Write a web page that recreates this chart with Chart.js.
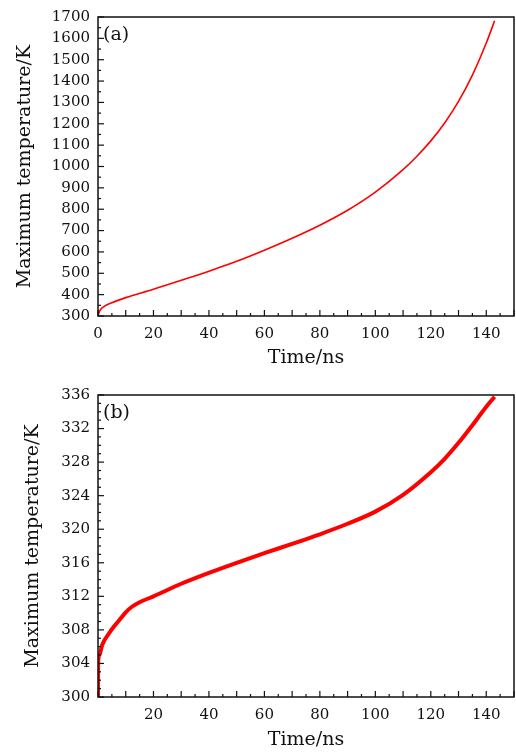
<!DOCTYPE html>
<html>
<head>
<meta charset="utf-8">
<script src="https://cdn.jsdelivr.net/npm/chart.js@4.4.1/dist/chart.umd.min.js"></script>
<style>
  body { margin: 0; background: #fff; }
  .panel { position: absolute; left: 0; width: 516px; height: 376px; }
</style>
</head>
<body>
<div class="panel" style="top:0"><canvas id="chartA" width="516" height="376"></canvas></div>
<div class="panel" style="top:377px"><canvas id="chartB" width="516" height="376"></canvas></div>
<script>
// (a) max temperature over the whole run
const timeA = [0, 0.5, 1, 2, 5, 10, 20, 30, 40, 50, 60, 70, 80, 90, 100, 110, 115, 120, 125, 130, 135, 140, 143];
const tempA = [300, 320, 332, 343, 362, 386, 425, 467, 510, 556, 608, 664, 725, 795, 880, 985, 1048, 1120, 1204, 1305, 1428, 1578, 1682];

// (b) same quantity, smaller range
const timeB = [0, 0.05, 0.5, 1.5, 4, 6, 8, 10, 12, 15, 20, 30, 40, 50, 60, 70, 80, 90, 100, 110, 120, 125, 130, 135, 140, 143];
const tempB = [300, 304, 305, 306.2, 307.6, 308.5, 309.3, 310.1, 310.7, 311.3, 312.0, 313.5, 314.8, 316.0, 317.15, 318.25, 319.4, 320.65, 322.1, 324.1, 326.8, 328.4, 330.3, 332.4, 334.6, 335.8];

const xLabel = 'Time/ns';
const yLabel = 'Maximum temperature/K';
const serif = '"DejaVu Serif", serif';

// inward ticks + closed frame + panel letter
const frameTicks = {
    id: 'frameTicks',
    afterDraw(chart, args, opts) {
        const { ctx, chartArea: a } = chart;
        const x = chart.scales.x, y = chart.scales.y;
        ctx.save();
        ctx.strokeStyle = '#111';
        ctx.lineWidth = 1.2;
        x.ticks.forEach(t => {
            const px = x.getPixelForValue(t.value);
            const len = t.value % opts.xMajor === 0 ? 6 : 3;
            ctx.beginPath();
            ctx.moveTo(px, a.bottom);
            ctx.lineTo(px, a.bottom - len);
            ctx.stroke();
        });
        y.ticks.forEach(t => {
            const py = y.getPixelForValue(t.value);
            const len = Math.abs((t.value - 300) % opts.yMajor) < 1e-6 ? 6 : 3;
            ctx.beginPath();
            ctx.moveTo(a.left, py);
            ctx.lineTo(a.left + len, py);
            ctx.stroke();
        });
        ctx.lineWidth = 1.5;
        ctx.strokeRect(a.left, a.top, a.right - a.left, a.bottom - a.top);
        ctx.fillStyle = '#111';
        ctx.font = '19px ' + serif;
        ctx.textBaseline = 'middle';
        ctx.fillText(opts.label, a.left + 5, a.top + 18);
        ctx.restore();
    }
};

function makeChart(id, xs, ys, cfg) {
    const ctx = document.getElementById(id).getContext('2d');
    return new Chart(ctx, {
        type: 'line',
        data: {
            datasets: [{
                data: xs.map((t, i) => ({ x: t, y: ys[i] })),
                borderColor: '#ff0000',
                borderWidth: cfg.lineWidth,
                pointRadius: 0,
                cubicInterpolationMode: 'monotone',
                fill: false
            }]
        },
        options: {
            responsive: false,
            animation: false,
            layout: { padding: { top: cfg.top, right: 2, left: 0, bottom: 0 } },
            plugins: {
                legend: { display: false },
                tooltip: { enabled: false },
                frameTicks: { label: cfg.label, xMajor: 10, yMajor: cfg.yMajor }
            },
            scales: {
                x: {
                    type: 'linear',
                    min: 0,
                    max: 150,
                    grid: { display: false, drawTicks: false },
                    border: { display: false },
                    afterFit: s => { s.height = cfg.xHeight; s.paddingRight = 0; s.paddingLeft = 0; },
                    ticks: {
                        stepSize: 5,
                        autoSkip: false,
                        maxRotation: 0,
                        padding: 9,
                        color: '#111',
                        font: { family: serif, size: 15 },
                        callback: v => (v % 20 === 0 && (cfg.showZero || v !== 0)) ? String(v) : ''
                    },
                    title: {
                        display: true,
                        text: xLabel,
                        color: '#111',
                        font: { family: serif, size: 19 },
                        padding: { top: 0, bottom: cfg.xTitlePad }
                    }
                },
                y: {
                    min: 300,
                    max: cfg.yMax,
                    grid: { display: false, drawTicks: false },
                    border: { display: false },
                    afterFit: s => { s.width = 98; },
                    ticks: {
                        stepSize: cfg.yStep,
                        autoSkip: false,
                        padding: 8,
                        color: '#111',
                        font: { family: serif, size: 15 },
                        callback: v => Math.abs((v - 300) % cfg.yLabelStep) < 1e-6 ? String(v) : ''
                    },
                    title: {
                        display: true,
                        text: yLabel,
                        color: '#111',
                        font: { family: serif, size: 19 },
                        padding: { top: cfg.yTitlePad, bottom: 0 }
                    }
                }
            }
        },
        plugins: [frameTicks]
    });
}

document.addEventListener('DOMContentLoaded', function () {
    makeChart('chartA', timeA, tempA, {
        label: '(a)', lineWidth: 1.6, top: 14, xHeight: 60, xTitlePad: 7, yTitlePad: 14,
        yMax: 1700, yStep: 50, yLabelStep: 100, yMajor: 100, showZero: true
    });
    makeChart('chartB', timeB, tempB, {
        label: '(b)', lineWidth: 4, top: 18, xHeight: 56, xTitlePad: 2, yTitlePad: 22,
        yMax: 336, yStep: 1, yLabelStep: 4, yMajor: 4, showZero: false
    });
});
</script>
</body>
</html>
